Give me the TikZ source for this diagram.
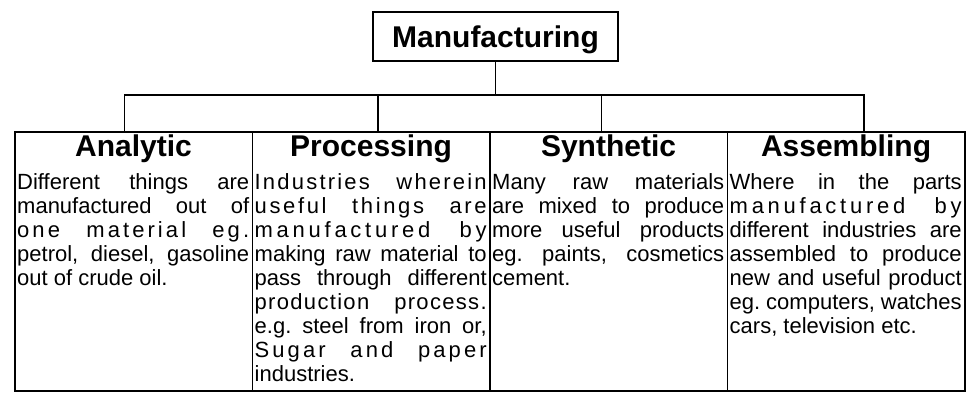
\documentclass[tikz,border=0pt]{standalone}
\usepackage{fontspec}
\setmainfont{Liberation Sans}
\usetikzlibrary{positioning}
\newcommand{\spaced}[2]{{\addfontfeature{LetterSpace=#1}#2}}

\begin{document}
\begin{tikzpicture}[x=1pt, y=1pt,
         wire/.style={line width=1.6pt},
         top/.style={
         % The shape:
         rectangle,
         % The size:
         minimum height=49pt,
         minimum width=245pt,
         % The border
         line width=2pt, draw=black,
         % Font
         font=\fontsize{30}{34}\selectfont\bfseries, text depth=0pt, inner sep=0pt},
         col/.style={rectangle, minimum width=237.5pt, minimum height=259pt,
         line width=1.6pt, draw=black, inner sep=0pt},
         head/.style={font=\fontsize{30}{34}\selectfont\bfseries, inner sep=0pt},
         body/.style={font=\fontsize{22}{24}\selectfont\frenchspacing,
         text width=232pt, align=justify, inner sep=0pt}]
   \useasboundingbox (0,0) rectangle (966,418);
   \node [top] (title) at (495.5,381.5) {Manufacturing};
   \coordinate (bar) at (0,323);
   \foreach \i/\d/\h/\t in {
      1/-9/Analytic/{Different things are\linebreak manufactured out of\linebreak
         \spaced{14}{one material eg.}\linebreak petrol, diesel, gasoline\linebreak
         out of crude oil.},
      2/7/Processing/{\spaced{10}{Industries wherein}\linebreak
         \spaced{12}{useful things are}\linebreak \spaced{17}{manufactured by}\linebreak
         making raw material to\linebreak pass through different\linebreak
         \spaced{6}{production process.}\linebreak e.g. steel from iron or,\linebreak
         \spaced{14}{Sugar and paper}\linebreak industries.},
      3/-7/Synthetic/{Many raw materials\linebreak are mixed to produce\linebreak
         more useful products\linebreak eg. paints, cosmetics\linebreak cement.},
      4/18/Assembling/{Where in the parts\linebreak \spaced{17}{manufactured by}\linebreak
         different industries are\linebreak assembled to produce\linebreak
         new and useful product\linebreak eg. computers, watches\linebreak
         cars, television etc.}}{
      \node [col, anchor=north west] (col\i) at ({14+237.5*(\i-1)},287) {};
      \coordinate (top\i) at ([xshift=\d pt]col\i.north);
      \node [head, anchor=base] (head\i) at ([yshift=-26pt]col\i.north) {\h};
      \node [body, anchor=north west] (text\i) at ([xshift=3pt,yshift=-41pt]col\i.north west)
         {\noindent\rule{0pt}{17pt}\t};
   }
   %% tree lines
   \draw [wire] (title.south) -- (title.south |- bar);
   \draw [wire] (top1) -- (top1 |- bar) -- (top4 |- bar) -- (top4);
   \draw [wire] (top2) -- (top2 |- bar);
   \draw [wire] (top3) -- (top3 |- bar);
\end{tikzpicture}
\end{document}
